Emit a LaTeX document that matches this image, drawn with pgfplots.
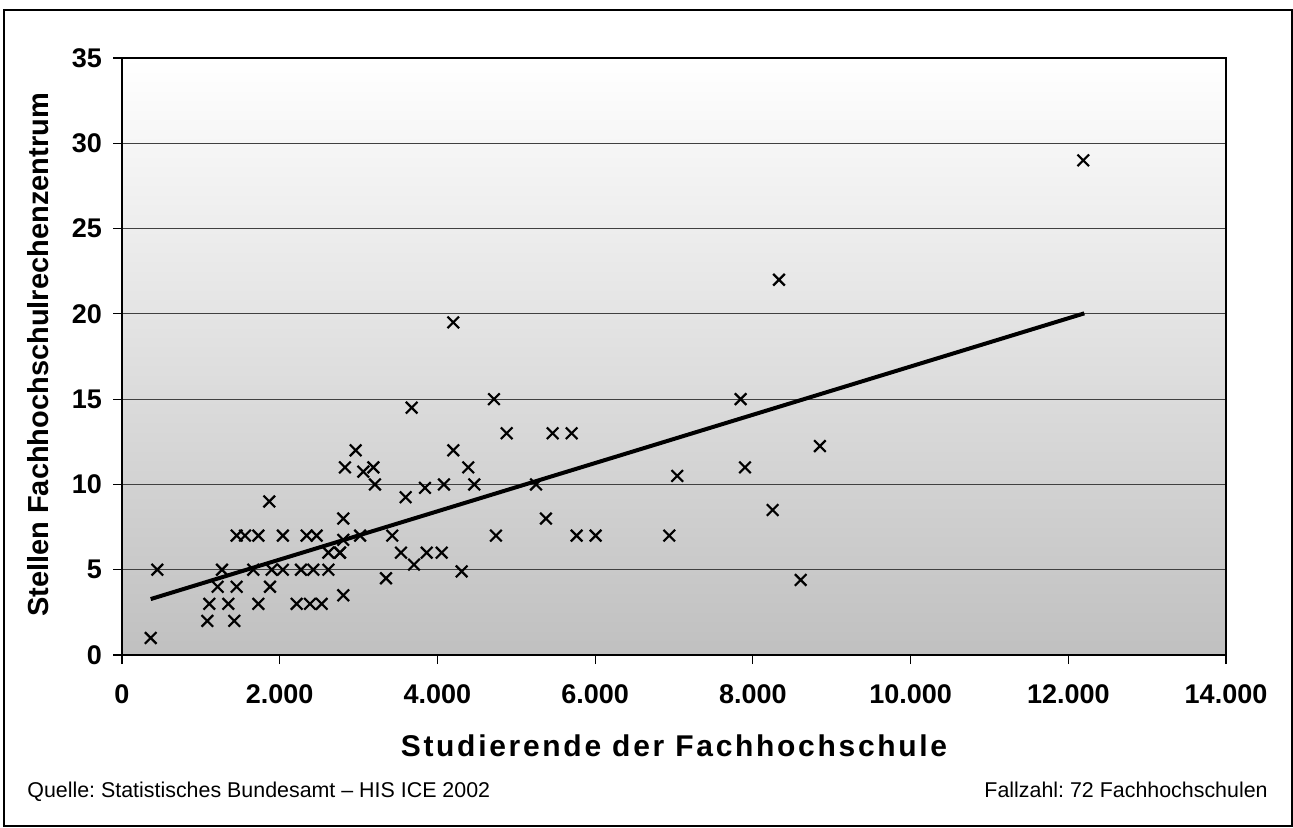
\documentclass[border=0pt]{standalone}
\usepackage{pgfplots}
\pgfplotsset{compat=1.18}
\usepackage{fontspec}
\setmainfont{Liberation Sans}
\frenchspacing
\definecolor{bgbot}{RGB}{192,192,192}
\definecolor{gridc}{RGB}{64,64,64}
\begin{document}
\begin{tikzpicture}
\path[use as bounding box] (0pt,0pt) rectangle (646.5pt,-414pt);
\draw[line width=1.1pt] (1.8pt,-5pt) rectangle (645.8pt,-412.8pt);
\begin{axis}[
  at={(61pt,-327.5pt)}, anchor=south west,
  scale only axis, width=552pt, height=298.5pt,
  xmin=0, xmax=14000, ymin=0, ymax=35,
  xtick={0,2000,...,14000}, ytick={0,5,...,35},
  minor tick num=0,
  tick align=outside, major tick length=4.5pt,
  tick style={black, line width=0.6pt},
  xtick pos=bottom, ytick pos=left,
  ymajorgrids, major grid style={gridc, line width=0.5pt},
  axis line style={black, line width=0.9pt},
  axis background/.style={top color=white, bottom color=bgbot},
  /pgf/number format/.cd, 1000 sep={.}, assume math mode=true,
  /pgfplots/.cd,
  scaled x ticks=false,
  tick label style={font=\fontsize{13.5}{15}\selectfont\bfseries},
  xticklabel style={yshift=-7pt},
  yticklabel style={xshift=-2pt},
  xlabel={\addfontfeatures{LetterSpace=9}Studierende der Fachhochschule},
  ylabel={Stellen Fachhochschulrechenzentrum},
  xlabel style={font=\fontsize{15}{17}\selectfont\bfseries, at={(axis description cs:0.5,-0.1524)}, anchor=center},
  ylabel style={font=\fontsize{14.5}{16}\selectfont\bfseries, at={(axis description cs:-0.0761,0.5025)}, anchor=center},
  clip=false,
]
\addplot[only marks, mark=x, mark size=4.1pt, mark options={line width=1.1pt, black}] table {
x y
364 1
448 5
1082 2
1424 2
1107 3
1348 3
1729 3
1213 4
1454 4
1877 4
1268 5
1665 5
1898 5
2040 5
2270 5
2426 5
2617 5
2215 3
2384 3
2532 3
2806 3.5
1868 9
1454 7
1560 7
1729 7
2040 7
2342 7
2468 7
2806 8
2806 6.75
2617 6
2764 6
2764 6
3020 7
2827 11
2963 12
3060 10.75
3187 11
3208 10
4201 19.5
3673 14.5
4717 15
4878 13
5461 13
5702 13
4201 12
4391 11
4083 10
4467 10
5250 10
3842 9.8
3597 9.25
3427 7
3538 6
3703 5.3
3864 6
4054 6
3348 4.5
4307 4.9
4742 7
5376 8
5765 7
6006 7
7845 15
8850 12.25
7900 11
7041 10.5
8251 8.5
6940 7
8606 4.4
12190 29
8331 22
};
\addplot[black, line width=2pt] coordinates {(364,3.28) (12203,20.03)};
\end{axis}
\node[anchor=base west, inner sep=0pt, font=\fontsize{10.7}{12}\selectfont] at (13.5pt,-398.5pt) {Quelle: Statistisches Bundesamt – HIS ICE 2002};
\node[anchor=base east, inner sep=0pt, font=\fontsize{10.7}{12}\selectfont] at (634pt,-398.5pt) {Fallzahl: 72 Fachhochschulen};
\end{tikzpicture}
\end{document}
